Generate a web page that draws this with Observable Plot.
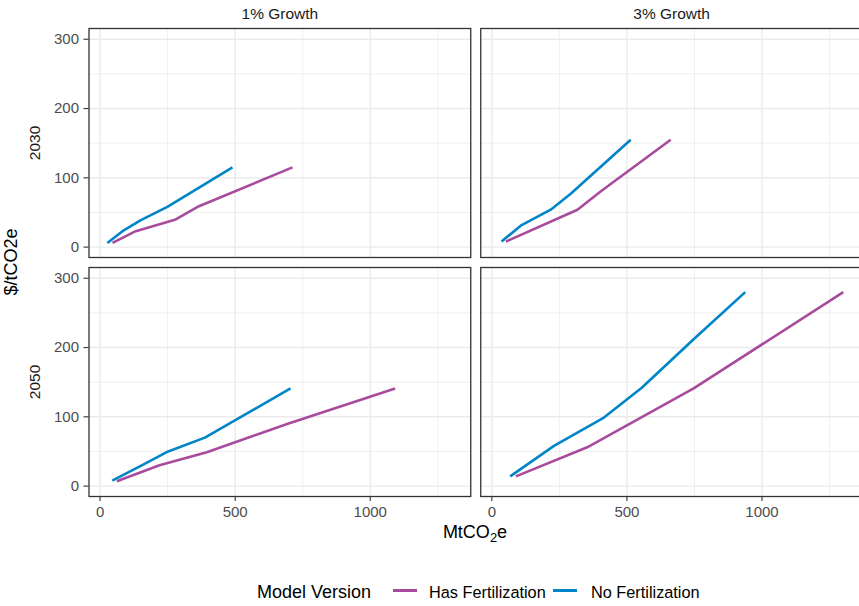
<!DOCTYPE html>
<html>
<head>
<meta charset="utf-8">
<script src="https://cdn.jsdelivr.net/npm/d3@7"></script>
<script src="https://cdn.jsdelivr.net/npm/@observablehq/plot@0.6"></script>
<style>
  html, body { margin: 0; padding: 0; background: #fff; overflow: hidden; }
  #wrap { position: relative; width: 859px; height: 606px; overflow: hidden;
          font-family: "Liberation Sans", Arial, Helvetica, sans-serif; }
  #chart { position: absolute; left: 0; top: 0; }
  .legend-item { position: absolute; top: 580px; line-height: 24px; white-space: nowrap; color: #000; }
  .legend-title { font-size: 18px; }
  .legend-label { font-size: 16.3px; }
  .legend-key { position: absolute; top: 589px; width: 24px; height: 2.6px; }
</style>
</head>
<body>
<div id="wrap">
  <div id="chart"></div>
  <div id="legend"></div>
</div>
<script>
// Facet categories
const growthRates = ["1% Growth", "3% Growth"];
const years = ["2030", "2050"];
const models = ["Has Fertilization", "No Fertilization"];

// Axis breaks
const xTicks = [0, 500, 1000];
const xMinor = [250, 750, 1250];
const yTicks = [0, 100, 200, 300];
const yMinor = [50, 150, 250];

// Marginal abatement cost curves: [MtCO2e abated, $/tCO2e]
const hasFert_1pct_2030 = [[46, 6], [132, 23], [280, 40], [366, 59], [712, 115]];
const noFert_1pct_2030  = [[27, 6], [83, 23], [151, 39], [249, 58], [490, 115]];
const hasFert_3pct_2030 = [[52, 8], [317, 54], [405, 81], [662, 155]];
const noFert_3pct_2030  = [[36, 8], [107, 31], [218, 54], [292, 77], [514, 155]];
const hasFert_1pct_2050 = [[62, 7], [220, 30], [395, 49], [695, 90], [1092, 141]];
const noFert_1pct_2050  = [[45, 8], [165, 32], [252, 50], [388, 70], [705, 141]];
const hasFert_3pct_2050 = [[89, 14], [353, 56], [747, 141], [1301, 280]];
const noFert_3pct_2050  = [[68, 14], [230, 58], [415, 99], [555, 142], [747, 212], [938, 280]];

const curves = [
  [models[0], growthRates[0], years[0], hasFert_1pct_2030],
  [models[1], growthRates[0], years[0], noFert_1pct_2030],
  [models[0], growthRates[1], years[0], hasFert_3pct_2030],
  [models[1], growthRates[1], years[0], noFert_3pct_2030],
  [models[0], growthRates[0], years[1], hasFert_1pct_2050],
  [models[1], growthRates[0], years[1], noFert_1pct_2050],
  [models[0], growthRates[1], years[1], hasFert_3pct_2050],
  [models[1], growthRates[1], years[1], noFert_3pct_2050]
];
const rows = curves.flatMap(([model, growth, year, pts]) =>
  pts.map(([mt, price]) => ({model, growth, year, mt, price})));

const modelColors = ["#a94b9d", "#0085c8"];
const font = "'Liberation Sans', Arial, Helvetica, sans-serif";

const W = 874, H = 545;
const panelRight = 862, panelBottom = 496;

const chart = Plot.plot({
  width: W,
  height: H,
  marginLeft: 88.5,
  marginRight: W - panelRight,
  marginTop: 28,
  marginBottom: H - panelBottom,
  style: {fontFamily: font, fontSize: "15px", background: "white", maxWidth: "none", overflow: "visible"},
  fx: {domain: growthRates, padding: 0.02553, paddingInner: 0.02553, paddingOuter: 0, round: false, axis: null, label: null},
  fy: {domain: years, padding: 0.04184, paddingInner: 0.04184, paddingOuter: 0, round: false, axis: null, label: null},
  x: {domain: [-41, 1372]},
  y: {domain: [-15, 315.5]},
  color: {domain: models, range: modelColors},
  marks: [
    Plot.gridX({ticks: xMinor, stroke: "#ebebeb", strokeOpacity: 1, strokeWidth: 0.8}),
    Plot.gridY({ticks: yMinor, stroke: "#ebebeb", strokeOpacity: 1, strokeWidth: 0.8}),
    Plot.gridX({ticks: xTicks, stroke: "#ebebeb", strokeOpacity: 1, strokeWidth: 1.4}),
    Plot.gridY({ticks: yTicks, stroke: "#ebebeb", strokeOpacity: 1, strokeWidth: 1.4}),
    Plot.line(rows, {
      x: "mt", y: "price", z: "model", stroke: "model",
      fx: "growth", fy: "year",
      strokeWidth: 2.6, strokeLinecap: "butt", strokeLinejoin: "round"
    }),
    Plot.frame({stroke: "#333333", strokeWidth: 1.3}),
    Plot.axisX({ticks: xTicks, tickFormat: d => String(d), facetAnchor: "bottom", tickSize: 5, tickPadding: 5,
      stroke: "#333333", strokeWidth: 1.1, fill: "#4d4d4d", fontSize: 15, label: null}),
    Plot.axisY({ticks: yTicks, tickFormat: d => String(d), facetAnchor: "left", tickSize: 5, tickPadding: 5,
      stroke: "#333333", strokeWidth: 1.1, fill: "#4d4d4d", fontSize: 15, label: null}),
    // Column strips
    Plot.text(growthRates, {
      fx: d => d, fy: () => years[0], text: d => d,
      frameAnchor: "top", dy: -14.5, lineAnchor: "middle",
      fill: "#1a1a1a", fontSize: 15.5
    }),
    // Row strips
    Plot.text(years, {
      fy: d => d, fx: () => growthRates[0], text: d => d,
      frameAnchor: "left", dx: -54, rotate: -90,
      textAnchor: "middle", lineAnchor: "middle",
      fill: "#1a1a1a", fontSize: 15.5
    })
  ]
});

// Axis titles
const svg = d3.select(chart);
const xTitle = svg.append("text")
  .attr("x", 475).attr("y", 538)
  .attr("text-anchor", "middle")
  .attr("fill", "#000")
  .style("font-size", "18px");
xTitle.append("tspan").text("MtCO");
xTitle.append("tspan").attr("dy", 4).style("font-size", "13px").text("2");
xTitle.append("tspan").attr("dy", -4).text("e");

svg.append("text")
  .attr("transform", "translate(17,262) rotate(-90)")
  .attr("text-anchor", "middle")
  .attr("fill", "#000")
  .style("font-size", "18px")
  .text("$/tCO2e");

document.getElementById("chart").appendChild(chart);

// Legend below the panels
const legend = document.getElementById("legend");
const title = document.createElement("div");
title.className = "legend-item legend-title";
title.style.left = "257px";
title.textContent = "Model Version";
legend.appendChild(title);

const keyLeft = [393, 553];
const labelLeft = [429, 591];
models.forEach((m, i) => {
  const key = document.createElement("div");
  key.className = "legend-key";
  key.style.left = keyLeft[i] + "px";
  key.style.background = modelColors[i];
  legend.appendChild(key);
  const lab = document.createElement("div");
  lab.className = "legend-item legend-label";
  lab.style.left = labelLeft[i] + "px";
  lab.textContent = m;
  legend.appendChild(lab);
});
</script>
</body>
</html>
